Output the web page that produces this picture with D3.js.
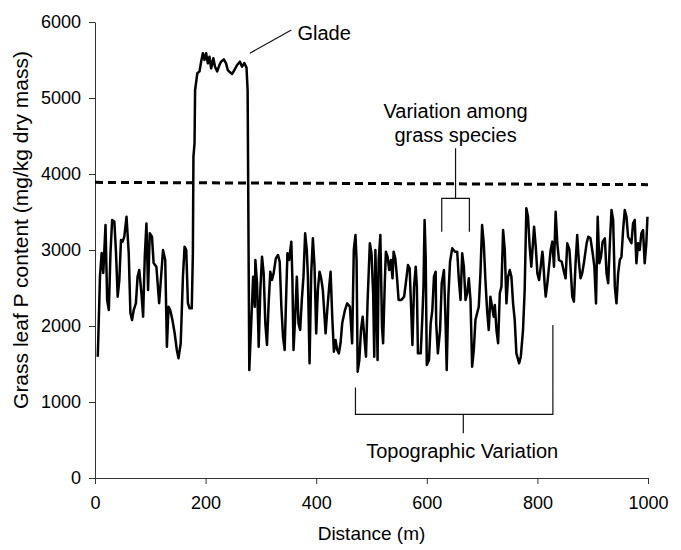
<!DOCTYPE html>
<html>
<head>
<meta charset="utf-8">
<script src="https://cdn.jsdelivr.net/npm/d3@7"></script>
<style>
  body { margin: 0; background: #fff; }
  svg { display: block; font-family: Arial, "Liberation Sans", sans-serif; }
  .axis path, .axis line { stroke: #333; }
  .axis text { fill: #000; font-size: 18px; }
</style>
</head>
<body>
<svg id="chart" width="681" height="550"></svg>
<script>
// Distance along the transect (m)
const distance = [
  5, 9, 12, 15, 19, 22, 25, 28, 31, 35, 38, 41, 44, 47, 50, 53, 57, 61, 64, 67,
  70, 74, 77, 80, 84, 87, 90, 93, 96, 99, 103, 106, 111, 116, 120, 123, 127, 130, 133, 136,
  140, 144, 148, 151, 155, 159, 162, 165, 168, 171, 175, 177, 178, 180, 181, 185, 189, 192, 195, 198,
  201, 204, 207, 210, 214, 217, 221, 225, 228, 233, 237, 240, 243, 248, 252, 257, 262, 266, 270, 274,
  276, 279, 283, 286, 289, 290, 293, 295, 296, 299, 302, 305, 308, 311, 314, 317, 320, 323, 327, 331,
  334, 337, 340, 343, 346, 348, 351, 355, 357, 359, 362, 365, 368, 371, 374, 377, 380, 383, 385, 388,
  391, 394, 397, 400, 403, 406, 409, 412, 417, 420, 423, 426, 429, 432, 435, 438, 441, 444, 447, 452,
  456, 461, 465, 468, 471, 473, 475, 478, 481, 484, 487, 490, 493, 497, 500, 503, 505, 507, 509, 511,
  513, 516, 519, 521, 524, 526, 529, 532, 535, 538, 540, 543, 546, 549, 554, 559, 562, 566, 569, 572,
  574, 577, 580, 582, 584, 589, 592, 594, 596, 598, 600, 604, 607, 610, 613, 616, 617, 620, 624, 627,
  631, 634, 636, 639, 642, 646, 651, 655, 658, 661, 664, 667, 670, 673, 676, 679, 682, 685, 688, 691,
  694, 697, 700, 703, 706, 709, 712, 715, 718, 721, 723, 726, 729, 732, 735, 738, 741, 744, 747, 750,
  753, 756, 759, 762, 767, 770, 774, 777, 780, 783, 786, 789, 794, 797, 800, 803, 806, 809, 810, 813,
  815, 818, 821, 824, 827, 830, 833, 836, 839, 844, 848, 851, 854, 858, 861, 863, 866, 869, 872, 875,
  878, 881, 884, 889, 892, 896, 900, 903, 906, 909, 912, 915, 918, 922, 925, 928, 931, 934, 937, 940,
  943, 946, 949, 952, 955, 958, 961, 964, 967, 970, 973, 976, 979, 982, 985, 988, 991, 994, 997, 999
];

// Grass leaf P content (mg/kg dry mass)
const pContent = [
  1596, 2649, 2960, 2697, 3329, 2342, 2210, 2960, 3395, 3373, 2960, 2386, 2605, 3132, 3110, 3175, 3438, 2960, 2170, 2080,
  2210, 2300, 2650, 2737, 2430, 2122, 2912, 3350, 2474, 3220, 3175, 2829, 2780, 2300, 2697, 3000, 2868, 1728, 2254, 2210,
  2080, 1908, 1684, 1575, 1772, 2649, 3044, 3000, 2300, 2232, 2232, 2960, 4228, 4404, 5105, 5325, 5350, 5480, 5590, 5500,
  5590, 5456, 5544, 5390, 5522, 5412, 5350, 5434, 5478, 5508, 5456, 5368, 5346, 5316, 5368, 5434, 5478, 5412, 5460, 5400,
  5100, 1420, 2122, 2649, 2254, 2868, 2562, 2035, 1728, 2474, 2912, 2693, 2035, 1750, 2298, 2715, 2605, 2693, 2890, 2934,
  2846, 2254, 1859, 1684, 2474, 2956, 2868, 3110, 2605, 1684, 2122, 2649, 2035, 1947, 2342, 2649, 3220, 3000, 2649, 1509,
  2693, 3153, 2780, 1903, 2474, 2715, 2627, 2474, 1903, 2210, 2474, 2715, 2122, 1662, 1816, 1684, 1640, 1772, 2035, 2210,
  2298, 2254, 1772, 3000, 3197, 2868, 1399, 1553, 1947, 2122, 1859, 1596, 2342, 3088, 2956, 2430, 1596, 3000, 2386, 1553,
  2868, 3197, 1991, 1772, 2562, 2978, 2912, 2737, 2868, 2627, 2978, 2890, 2649, 2342, 2342, 2386, 2562, 2803, 2759, 2167,
  1750, 2518, 2780, 2518, 1640, 1640, 2122, 2518, 3395, 2912, 1487, 1553, 2035, 2210, 2649, 2715, 2035, 1640, 1947, 2562,
  2737, 2035, 1421, 2386, 2846, 3022, 2978, 2978, 2605, 2342, 2956, 2780, 2342, 2430, 2627, 2342, 1465, 1684, 2080, 2167,
  2254, 2693, 3329, 3088, 2605, 2210, 1947, 2386, 2254, 2122, 2276, 1947, 1772, 2430, 2518, 3263, 3000, 2298, 2649, 2737,
  2649, 2298, 2080, 1640, 1509, 1596, 1947, 2474, 3548, 3438, 3044, 2780, 3307, 3044, 2693, 2605, 2780, 2978, 2912, 2562,
  2386, 2562, 2780, 3000, 3110, 2780, 3504, 3088, 2868, 2846, 2715, 2627, 3088, 3000, 2649, 2386, 2320, 2825, 3197, 2846,
  2627, 2693, 2825, 3088, 3175, 3153, 2956, 2780, 2298, 3438, 2825, 2912, 3110, 3153, 2693, 2562, 3088, 3526, 3395, 2518,
  2298, 2693, 2868, 2912, 3263, 3526, 3438, 3175, 3132, 3088, 3351, 3395, 2825, 3088, 3000, 3220, 3263, 2825, 3088, 3438
];

// Dashed reference line (start and end of transect)
const refDistance = [0, 1000];
const refValue = [3890, 3860];

const xTicks = [0, 200, 400, 600, 800, 1000];
const yTicks = [0, 1000, 2000, 3000, 4000, 5000, 6000];

const margin = {top: 22, right: 33, bottom: 72, left: 95};
const W = 681, H = 550;
const width = W - margin.left - margin.right;
const height = H - margin.top - margin.bottom;

const svg = d3.select('#chart');
const g = svg.append('g').attr('transform', `translate(${margin.left},${margin.top})`);

const x = d3.scaleLinear().domain([0, 1000]).range([0, width]);
const y = d3.scaleLinear().domain([0, 6000]).range([height, 0]);
const fmt = d3.format('d');

// axes
g.append('g')
  .attr('class', 'axis')
  .attr('transform', `translate(0,${height})`)
  .call(d3.axisBottom(x).tickValues(xTicks).tickFormat(fmt).tickSize(6).tickSizeOuter(0).tickPadding(12));

g.append('g')
  .attr('class', 'axis')
  .call(d3.axisLeft(y).tickValues(yTicks).tickFormat(fmt).tickSize(6).tickSizeOuter(0).tickPadding(8));

// reference dashed line
const refPts = refDistance.map((d, i) => [d, refValue[i]]);
g.append('path')
  .datum(refPts)
  .attr('fill', 'none')
  .attr('stroke', '#000')
  .attr('stroke-width', 3)
  .attr('stroke-dasharray', '8,5')
  .attr('d', d3.line().x(d => x(d[0])).y(d => y(d[1])));

// data line
const pts = distance.map((d, i) => [d, pContent[i]]);
g.append('path')
  .datum(pts)
  .attr('fill', 'none')
  .attr('stroke', '#000')
  .attr('stroke-width', 2.5)
  .attr('stroke-linejoin', 'round')
  .attr('d', d3.line().x(d => x(d[0])).y(d => y(d[1])));

// annotations
const ann = g.append('g')
  .attr('fill', 'none')
  .attr('stroke', '#111')
  .attr('stroke-width', 1.2);

// glade leader
ann.append('line')
  .attr('x1', x(280)).attr('y1', y(5590))
  .attr('x2', x(355)).attr('y2', y(5895));

// grass species bracket
ann.append('path')
  .attr('d', `M${x(627)},${y(3240)}V${y(3680)}H${x(677)}V${y(3240)}` +
             `M${x(652)},${y(3680)}V${y(4340)}`);

// topographic bracket
ann.append('path')
  .attr('d', `M${x(471)},${y(1190)}V${y(838)}H${x(828)}V${y(2013)}` +
             `M${x(666)},${y(838)}V${y(590)}`);

const txt = g.append('g')
  .attr('font-size', 20)
  .attr('fill', '#000');

txt.append('text')
  .attr('x', x(366)).attr('y', y(5765))
  .text('Glade');

txt.append('text')
  .attr('x', x(652)).attr('y', 118 - margin.top)
  .attr('text-anchor', 'middle')
  .text('Variation among');

txt.append('text')
  .attr('x', x(652)).attr('y', 142 - margin.top)
  .attr('text-anchor', 'middle')
  .text('grass species');

txt.append('text')
  .attr('x', x(664)).attr('y', 458 - margin.top)
  .attr('text-anchor', 'middle')
  .text('Topographic Variation');

// axis titles
svg.append('text')
  .attr('x', margin.left + width / 2)
  .attr('y', 540)
  .attr('text-anchor', 'middle')
  .attr('font-size', 19)
  .text('Distance (m)');

svg.append('text')
  .attr('transform', `translate(28,${margin.top + height / 2 - 20}) rotate(-90)`)
  .attr('text-anchor', 'middle')
  .attr('font-size', 21)
  .text('Grass leaf P content (mg/kg dry mass)');
</script>
</body>
</html>
